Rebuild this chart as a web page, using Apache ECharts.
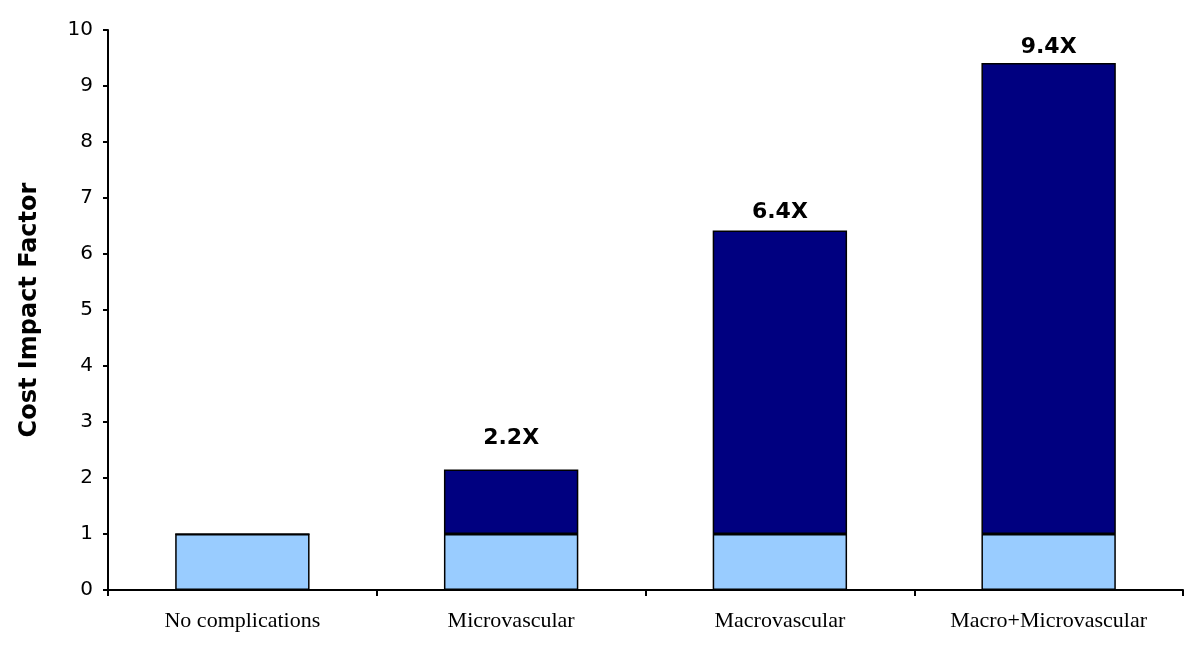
<!DOCTYPE html>
<html>
<head>
<meta charset="utf-8">
<script src="https://cdn.jsdelivr.net/npm/echarts@6/dist/echarts.min.js"></script>
<style>html,body{margin:0;padding:0;background:#fff}#c{width:1200px;height:645px}</style>
</head>
<body>
<div id="c"></div>
<script>
var categories = ['No complications', 'Microvascular', 'Macrovascular', 'Macro+Microvascular'];
var baseValues = [1, 1, 1, 1];
var extraValues = [0, 1.15, 5.42, 8.41];
var totalLabels = ['', '2.2X', '6.4X', '9.4X'];
var labelGaps = [6, 20, 7, 5];
var yTicks = [0, 10, 1];

var chart = echarts.init(document.getElementById('c'));
var topData = extraValues.map(function (v, i) {
  return {
    value: v,
    label: { show: totalLabels[i] !== '', formatter: totalLabels[i], distance: labelGaps[i] }
  };
});
chart.setOption({
  animation: false,
  grid: { left: 108, right: 17, top: 30, bottom: 55 },
  xAxis: {
    type: 'category',
    data: categories,
    axisLine: { lineStyle: { color: '#000', width: 2 } },
    axisTick: { show: true, length: 6, lineStyle: { color: '#000', width: 2 } },
    axisLabel: { fontFamily: 'Liberation Serif', fontSize: 22, color: '#000', margin: 20 }
  },
  yAxis: {
    type: 'value',
    min: yTicks[0], max: yTicks[1], interval: yTicks[2],
    name: 'Cost Impact Factor',
    nameLocation: 'middle',
    nameGap: 66,
    nameTextStyle: { fontFamily: 'DejaVu Sans', fontWeight: 'bold', fontSize: 24, color: '#000' },
    axisLine: { show: true, lineStyle: { color: '#000', width: 2 } },
    axisTick: { show: true, length: 5, lineStyle: { color: '#000', width: 2 } },
    splitLine: { show: false },
    axisLabel: { fontFamily: 'DejaVu Sans', fontSize: 20, color: '#000', margin: 15 }
  },
  series: [
    {
      type: 'bar', stack: 'cost', data: baseValues, barWidth: '50%',
      itemStyle: { color: '#99CCFF', borderColor: '#000', borderWidth: 1.5 }
    },
    {
      type: 'bar', stack: 'cost', data: topData, barWidth: '50%',
      itemStyle: { color: '#000080', borderColor: '#000', borderWidth: 1.5 },
      label: { position: 'top', fontFamily: 'DejaVu Sans', fontWeight: 'bold', fontSize: 22, color: '#000' }
    }
  ]
});
</script>
</body>
</html>
